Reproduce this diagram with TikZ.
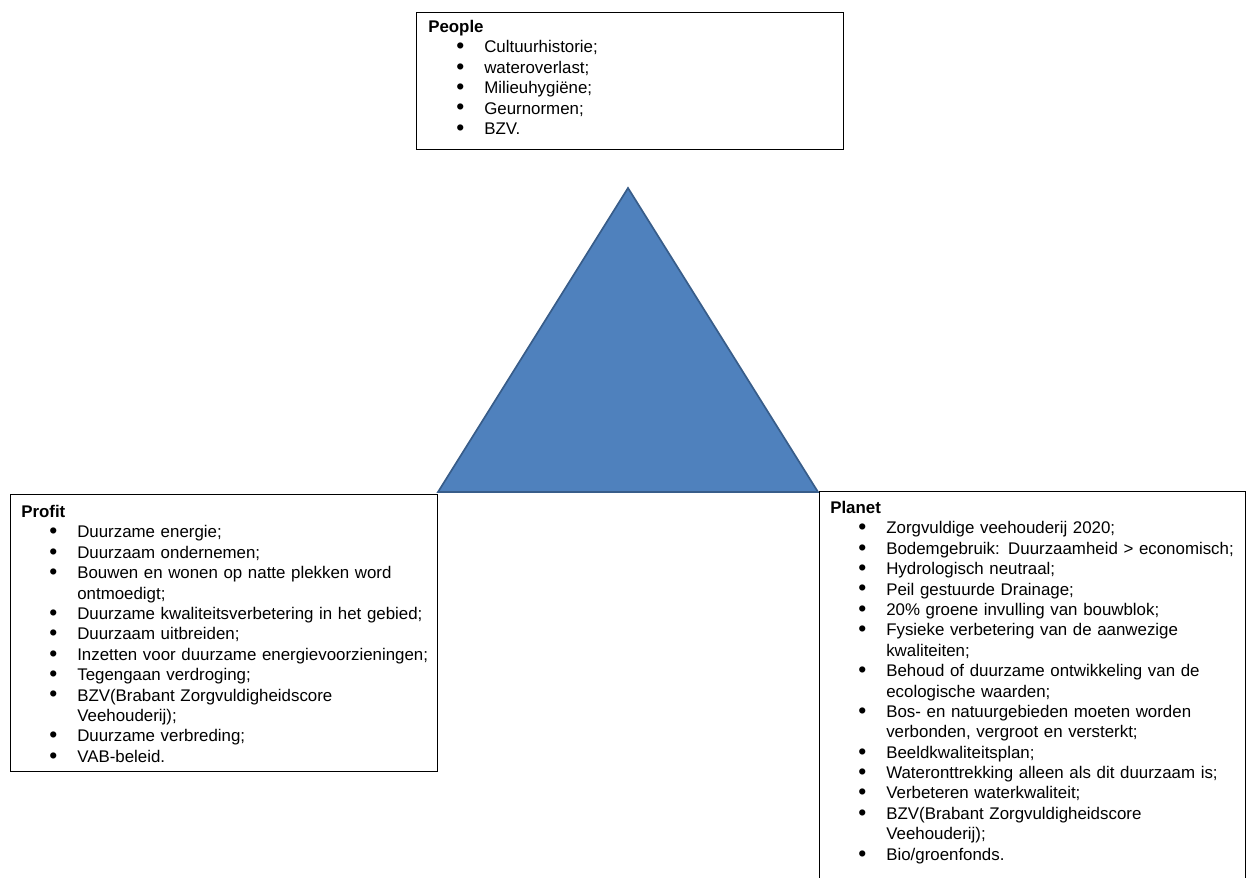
\documentclass[tikz,border=0pt]{standalone}
\usepackage{fontspec}
\setmainfont{Liberation Sans}
\usepackage{enumitem}
\usetikzlibrary{positioning}
\definecolor{triblue}{HTML}{4F81BD}
\definecolor{triedge}{HTML}{385D8A}
\setlist[itemize]{label=\raisebox{-0.1ex}{\scalebox{1.35}{\textbullet}},leftmargin=1.4cm,labelsep=0.5cm,itemsep=0pt,topsep=0pt,parsep=0pt,partopsep=0pt}

\begin{document}
\begin{tikzpicture}[
        x=0.025cm, y=-0.025cm,
        every node/.style={inner sep=0pt},
        ]
        \tikzstyle{listbox} = [draw=black, line width=0.7pt];
        \tikzstyle{listtext} = [anchor=north west, text width=10.4cm, align=left, font={\fontsize{12}{14.5}\selectfont}];
        \tikzstyle{pyramid} = [fill=triblue, draw=triedge, line width=1.2pt, line join=miter];
        \newcommand{\boxhead}[1]{\noindent\textbf{#1}\par}
        \useasboundingbox (0,0) rectangle (1246,877);
        \clip (0,0) rectangle (1246,877);
        \draw [pyramid] (628,188) coordinate (apex) -- (438,492) coordinate (baseleft) -- (818,492) coordinate (baseright) -- cycle;
        \draw [listbox] (416,12) coordinate (peoplebox) rectangle (843,149);
        \draw [listbox] (10,494) coordinate (profitbox) rectangle (437,771);
        \draw [listbox] (819,491) coordinate (planetbox) rectangle (1245,900);
        \node (people) [listtext] at (428,20) {\boxhead{People}
            \begin{itemize}
                \item Cultuurhistorie;
                \item wateroverlast;
                \item Milieuhygiëne;
                \item Geurnormen;
                \item BZV.
            \end{itemize}};
        \node (profit) [listtext] at (21,505) {\boxhead{Profit}
            \begin{itemize}
                \item Duurzame energie;
                \item Duurzaam ondernemen;
                \item Bouwen en wonen op natte plekken word\newline ontmoedigt;
                \item Duurzame kwaliteitsverbetering in het gebied;
                \item Duurzaam uitbreiden;
                \item Inzetten voor duurzame energievoorzieningen;
                \item Tegengaan verdroging;
                \item BZV(Brabant Zorgvuldigheidscore\newline Veehouderij);
                \item Duurzame verbreding;
                \item VAB-beleid.
            \end{itemize}};
        \node (planet) [listtext] at (830,501) {\boxhead{Planet}
            \begin{itemize}
                \item Zorgvuldige veehouderij 2020;
                \item Bodemgebruik: Duurzaamheid > economisch;
                \item Hydrologisch neutraal;
                \item Peil gestuurde Drainage;
                \item 20\% groene invulling van bouwblok;
                \item Fysieke verbetering van de aanwezige\newline kwaliteiten;
                \item Behoud of duurzame ontwikkeling van de\newline ecologische waarden;
                \item Bos- en natuurgebieden moeten worden\newline verbonden, vergroot en versterkt;
                \item Beeldkwaliteitsplan;
                \item Wateronttrekking alleen als dit duurzaam is;
                \item Verbeteren waterkwaliteit;
                \item BZV(Brabant Zorgvuldigheidscore\newline Veehouderij);
                \item Bio/groenfonds.
            \end{itemize}};
    \end{tikzpicture}
\end{document}
